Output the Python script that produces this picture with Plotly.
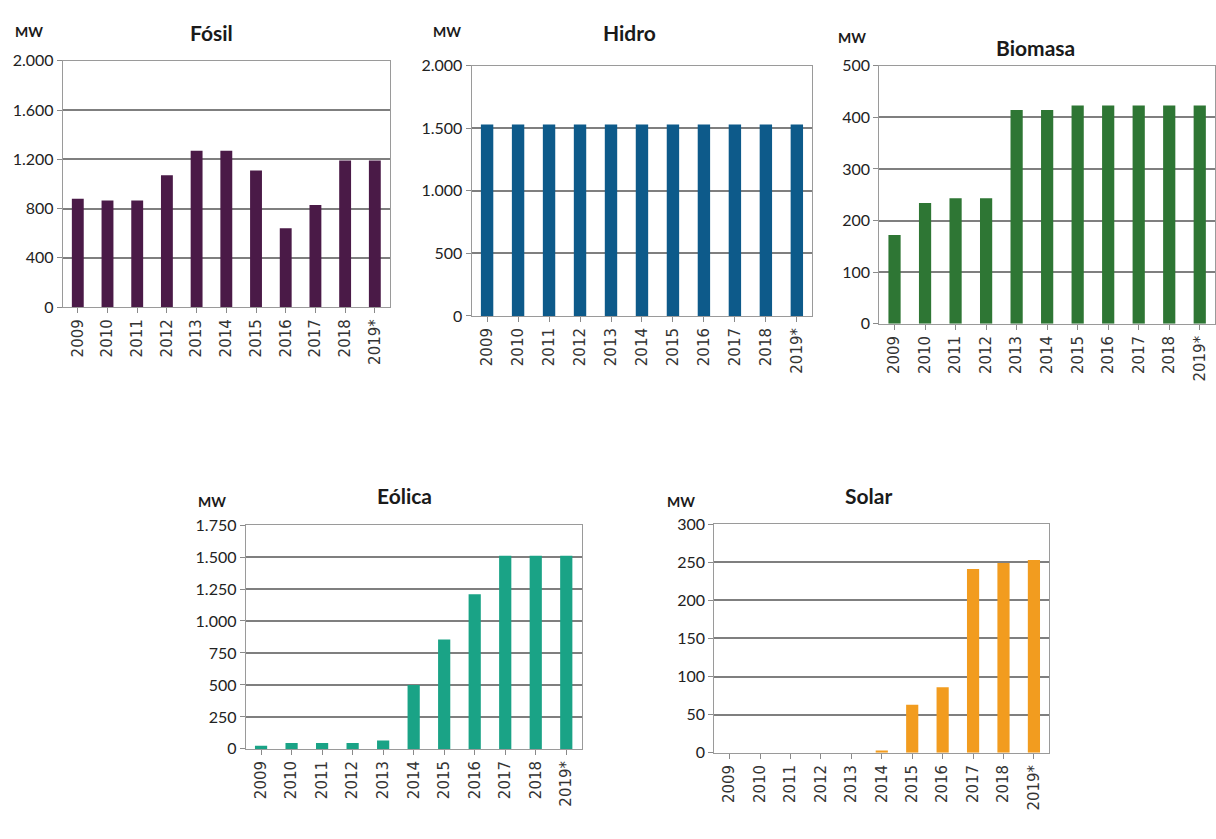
import plotly.graph_objects as go

# Installed capacity by source, MW
years = ["2009", "2010", "2011", "2012", "2013", "2014", "2015", "2016", "2017", "2018", "2019*"]
fosil = [880, 865, 865, 1070, 1270, 1270, 1110, 640, 830, 1190, 1190]
hidro = [1530, 1530, 1530, 1530, 1530, 1530, 1530, 1530, 1530, 1530, 1530]
biomasa = [172, 234, 243, 243, 414, 414, 423, 423, 423, 423, 423]
eolica = [25, 46, 46, 46, 66, 500, 855, 1210, 1510, 1510, 1510]
solar = [0, 0, 0, 0, 0, 3, 63, 86, 241, 249, 253]

titles = ["Fósil", "Hidro", "Biomasa", "Eólica", "Solar"]
unit_label = "MW"
colors = ["#4a1a47", "#0d5a8a", "#2e7634", "#1aa386", "#f29c1f"]
y_max = [2000, 2000, 500, 1750, 300]
y_step = [400, 500, 100, 250, 50]

W, H = 1216, 839
# panel boxes in pixels: left, right, top, bottom (zero line)
boxes = [
    (63, 390, 52, 304),
    (472, 813, 57, 313),
    (880, 1216, 57, 321),
    (246, 582, 527, 756),
    (715, 1050, 526, 760),
]
# title centre (x, y) and unit label position (x, y) in pixels
title_pos = [(212, 23), (630, 23), (1036, 38), (405, 497), (869, 497)]
unit_pos = [(29, 22), (447, 22), (853, 28), (212, 503), (682, 503)]

series = [fosil, hidro, biomasa, eolica, solar]

fig = go.Figure()
annotations = []
font_num = "Lato, 'Open Sans', sans-serif"

for i, (vals, box) in enumerate(zip(series, boxes)):
    n = "" if i == 0 else str(i + 1)
    xa, ya = "x" + n, "y" + n
    fig.add_trace(go.Bar(
        x=years, y=vals, xaxis=xa, yaxis=ya,
        marker=dict(color=colors[i], line=dict(width=0)),
        width=0.4, showlegend=False,
    ))
    l, r, t, b = box
    fig.layout["xaxis" + n] = dict(
        domain=[l / W, r / W], anchor=ya,
        type="category", showline=True, mirror=True,
        linecolor="#9a9a9a", linewidth=1.2,
        ticks="outside", ticklen=5, tickcolor="#8a8a8a",
        tickangle=-90, showgrid=False,
        tickfont=dict(family="DejaVu Sans", size=15, color="#333333"),
        fixedrange=True,
    )
    fig.layout["yaxis" + n] = dict(
        domain=[1 - b / H, 1 - t / H], anchor=xa,
        range=[0, y_max[i]], dtick=y_step[i], tick0=0,
        tickformat=",.0f",
        showgrid=True, gridcolor="#7f7f7f", gridwidth=1.5,
        showline=True, mirror=True, linecolor="#9a9a9a", linewidth=1.2,
        ticks="outside", ticklen=5, tickcolor="#8a8a8a",
        zeroline=False,
        tickfont=dict(family=font_num, size=16, color="#222222"),
        fixedrange=True,
    )
    tx, ty = title_pos[i]
    annotations.append(dict(
        x=tx / W, y=1 - ty / H, xref="paper", yref="paper",
        text=titles[i], showarrow=False, xanchor="center", yanchor="middle",
        font=dict(family=font_num, size=21, color="#1a1a1a", weight="bold"),
    ))
    ux, uy = unit_pos[i]
    annotations.append(dict(
        x=ux / W, y=1 - uy / H, xref="paper", yref="paper",
        text=unit_label, showarrow=False, xanchor="center", yanchor="middle",
        font=dict(family=font_num, size=14, color="#1a1a1a", weight="bold"),
    ))

fig.update_layout(
    width=W, height=H,
    margin=dict(l=0, r=0, t=0, b=0),
    paper_bgcolor="white", plot_bgcolor="white",
    separators=",.",
    bargap=0.6,
    annotations=annotations,
)

fig.write_html("out.html", config={"displayModeBar": False})
